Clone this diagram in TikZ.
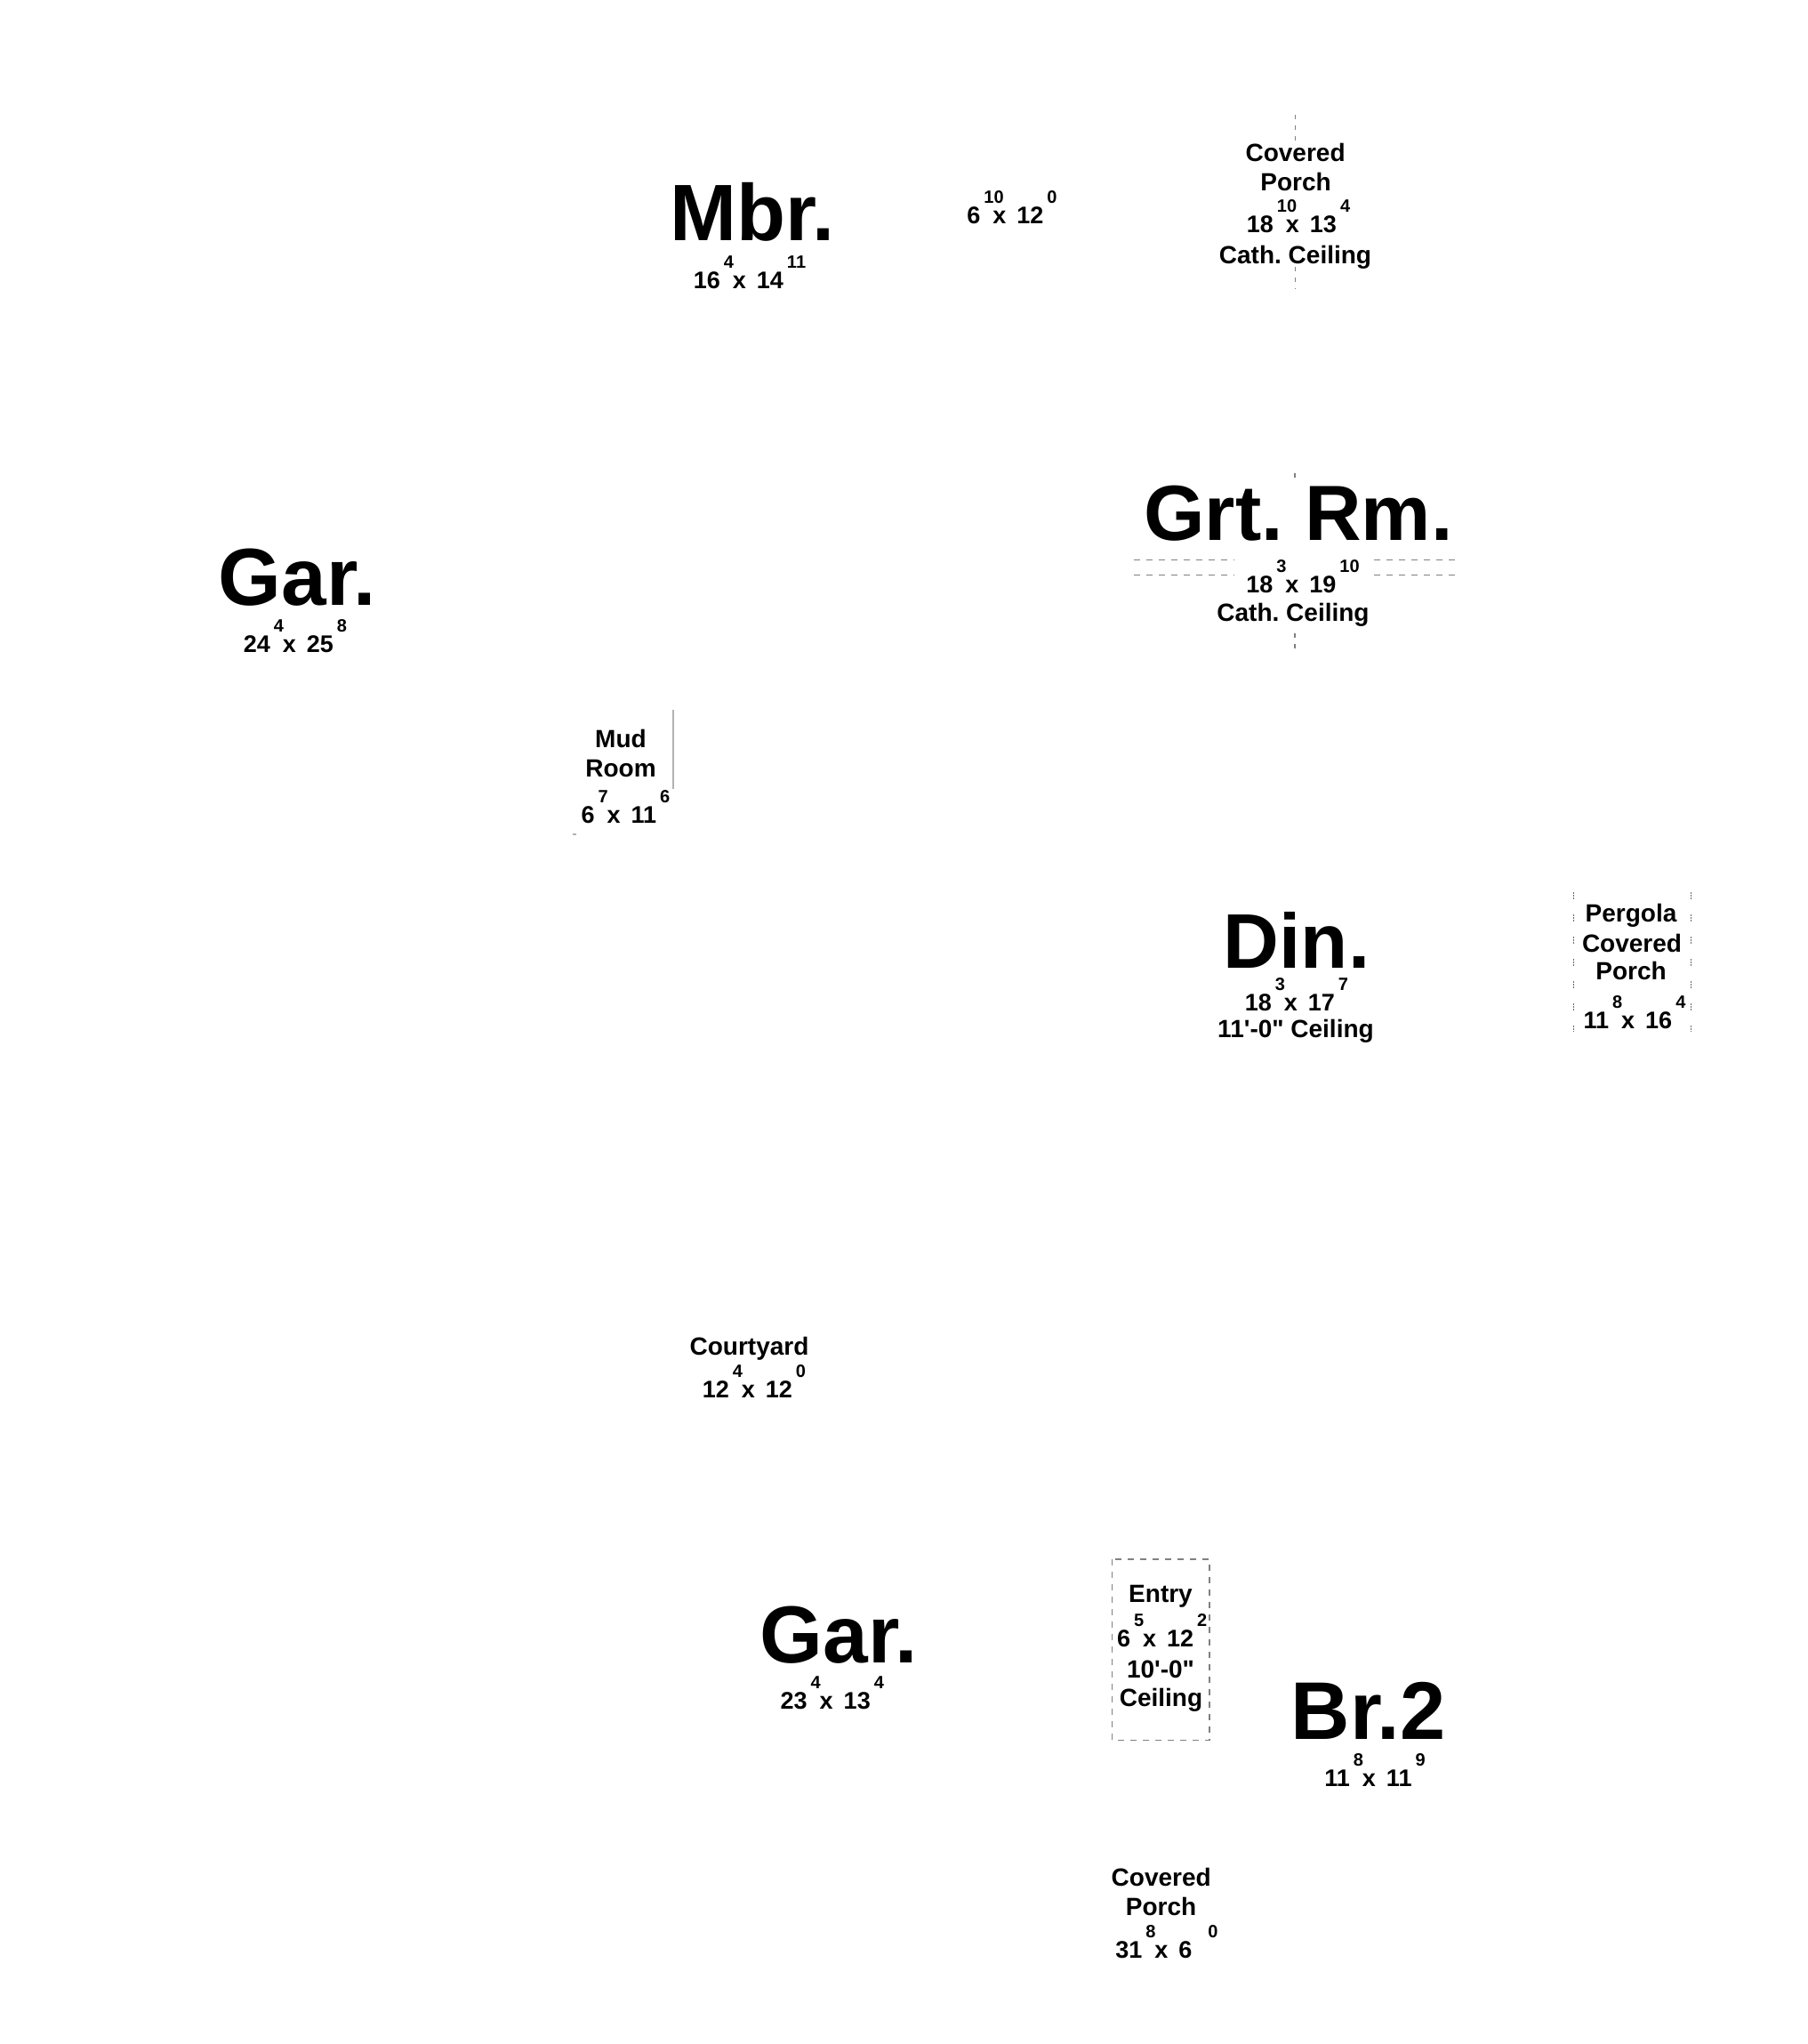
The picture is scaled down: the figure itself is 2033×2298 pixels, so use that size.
\documentclass[tikz,border=0pt]{standalone}
\usepackage{fontspec}
\setmainfont{Liberation Sans}
\newcommand\rmBig[1]{\fontsize{#1}{#1}\selectfont\bfseries\frenchspacing}
\newcommand\rmLab{\fontsize{28}{33}\selectfont\bfseries\frenchspacing}
\newcommand\rmDim{\fontsize{27}{30}\selectfont\bfseries}
\newcommand\rmSup{\fontsize{20}{20}\selectfont\bfseries}
% dimension text: #1^#2 x #3^#4 (superscripts smashed so they add no height)
\newcommand\dm[4]{#1\rlap{\kern4pt\smash{\raisebox{23pt}{\rmSup #2}}}\kern14pt x\kern12pt #3\kern4pt\smash{\raisebox{23pt}{\rmSup #4}}}
\tikzset{
  big/.style={font=\rmBig{#1}, anchor=base, inner sep=0pt},
  big/.default=88,
  lab/.style={font=\rmLab, anchor=base, inner sep=0pt},
  dim/.style={font=\rmDim, anchor=base, inner sep=0pt},
  cdash/.style={draw=black!50, line width=1.5pt, dash pattern=on 7pt off 7pt},
  vdash/.style={draw=black!50, line width=1.5pt, dash pattern=on 5pt off 7pt},
  pdot/.style={draw=black!60, line width=1pt,
    dash pattern=on 1.5pt off 1.5pt on 1.5pt off 1.5pt on 1.5pt off 17.5pt},
  thin/.style={draw=black!30, line width=1.2pt}
}
\begin{document}
\begin{tikzpicture}[x=1pt,y=-1pt]
\useasboundingbox (0,0) rectangle (2033,2298);

% ---- Master bedroom
\node[big=90] (mbr) at (846,271) {Mbr.};
\node[dim] (mbrd) at (843,325) {\dm{16}{4}{14}{11}};
\node[dim] (clos) at (1138,252) {\dm{6}{10}{12}{0}};

% ---- Covered porch (top)
\coordinate (cpa1) at (1456.6,129);
\coordinate (cpa2) at (1456.6,160);
\coordinate (cpb1) at (1456.6,300);
\coordinate (cpb2) at (1456.6,325);
\draw[vdash] (cpa1) -- (cpa2);
\draw[vdash] (cpb1) -- (cpb2);
\node[lab] (cp1) at (1456.6,182) {Covered};
\node[lab] (cp2) at (1457,215) {Porch};
\node[dim] (cp3) at (1460,262) {\dm{18}{10}{13}{4}};
\node[lab] (cp4) at (1456.5,297) {Cath. Ceiling};

% ---- Great room
\coordinate (gh1) at (1275,629.3);
\coordinate (gh2) at (1388,629.3);
\coordinate (gh3) at (1545,629.3);
\coordinate (gh4) at (1637,629.3);
\coordinate (gk1) at (1275,646.7);
\coordinate (gk2) at (1388,646.7);
\coordinate (gk3) at (1545,646.7);
\coordinate (gk4) at (1637,646.7);
\draw[cdash] (gh1) -- (gh2);
\draw[cdash] (gh3) -- (gh4);
\draw[cdash] (gk1) -- (gk2);
\draw[cdash] (gk3) -- (gk4);
\coordinate (gv1) at (1456,532);
\coordinate (gv2) at (1456,538);
\coordinate (gv3) at (1456,712);
\coordinate (gv4) at (1456,735);
\draw[vdash] (gv1) -- (gv2);
\draw[vdash] (gv3) -- (gv4);
\node[big=88] (grt) at (1460,607) {Grt. Rm.};
\node[dim] (grtd) at (1465,666) {\dm{18}{3}{19}{10}};
\node[lab] (grtc) at (1454,698) {Cath. Ceiling};

% ---- Garage (top left)
\node[big=91] (gar1) at (334.5,680) {Gar.};
\node[dim] (gar1d) at (332,733) {\dm{24}{4}{25}{8}};

% ---- Mud room
\coordinate (ml1) at (757,798);
\coordinate (ml2) at (757,887);
\draw[thin] (ml1) -- (ml2);
\coordinate (mt1) at (644,938);
\coordinate (mt2) at (648,938);
\draw[thin] (mt1) -- (mt2);
\node[lab] (mud1) at (698,840) {Mud};
\node[lab] (mud2) at (698,873) {Room};
\node[dim] (mudd) at (703.5,925) {\dm{6}{7}{11}{6}};

% ---- Dining
\node[big=87] (din) at (1458,1088) {Din.};
\node[dim] (dind) at (1458,1136.7) {\dm{18}{3}{17}{7}};
\node[lab] (dinc) at (1457,1166.7) {11\textquotesingle-0\textquotedbl{} Ceiling};

% ---- Pergola covered porch
\coordinate (pl1) at (1769,1003);
\coordinate (pl2) at (1769,1160);
\coordinate (pr1) at (1901,1003);
\coordinate (pr2) at (1901,1160);
\draw[pdot] (pl1) -- (pl2);
\draw[pdot] (pr1) -- (pr2);
\node[lab] (pg1) at (1834,1036.7) {Pergola};
\node[lab] (pg2) at (1835,1070) {Covered};
\node[lab] (pg3) at (1834,1101.7) {Porch};
\node[dim] (pgd) at (1838,1156.7) {\dm{11}{8}{16}{4}};

% ---- Courtyard
\node[lab] (cy) at (842.5,1523.3) {Courtyard};
\node[dim] (cyd) at (848,1571.7) {\dm{12}{4}{12}{0}};

% ---- Garage (bottom)
\node[big=91] (gar2) at (943.3,1869.3) {Gar.};
\node[dim] (gar2d) at (935.8,1921.7) {\dm{23}{4}{13}{4}};

% ---- Entry
\coordinate (en1) at (1250.7,1753);
\coordinate (en2) at (1360,1956.7);
\draw[cdash, line width=1.3pt] (en1) rectangle (en2);
\node[lab] (ent1) at (1305,1801.7) {Entry};
\node[dim] (entd) at (1306.7,1851.7) {\dm{6}{5}{12}{2}};
\node[lab] (ent3) at (1305,1886.7) {10\textquotesingle-0\textquotedbl};
\node[lab] (ent4) at (1305.5,1918) {Ceiling};

% ---- Bedroom 2
\node[big=92] (br2) at (1538.7,1955) {Br.2};
\node[dim] (br2d) at (1546,2008) {\dm{11}{8}{11}{9}};

% ---- Covered porch (bottom)
\node[lab] (cb1) at (1305.7,2120) {Covered};
\node[lab] (cb2) at (1305.5,2153) {Porch};
\node[dim] (cbd) at (1312,2201.7) {\dm{31}{8}{6}{\kern14pt 0}};
\end{tikzpicture}
\end{document}
